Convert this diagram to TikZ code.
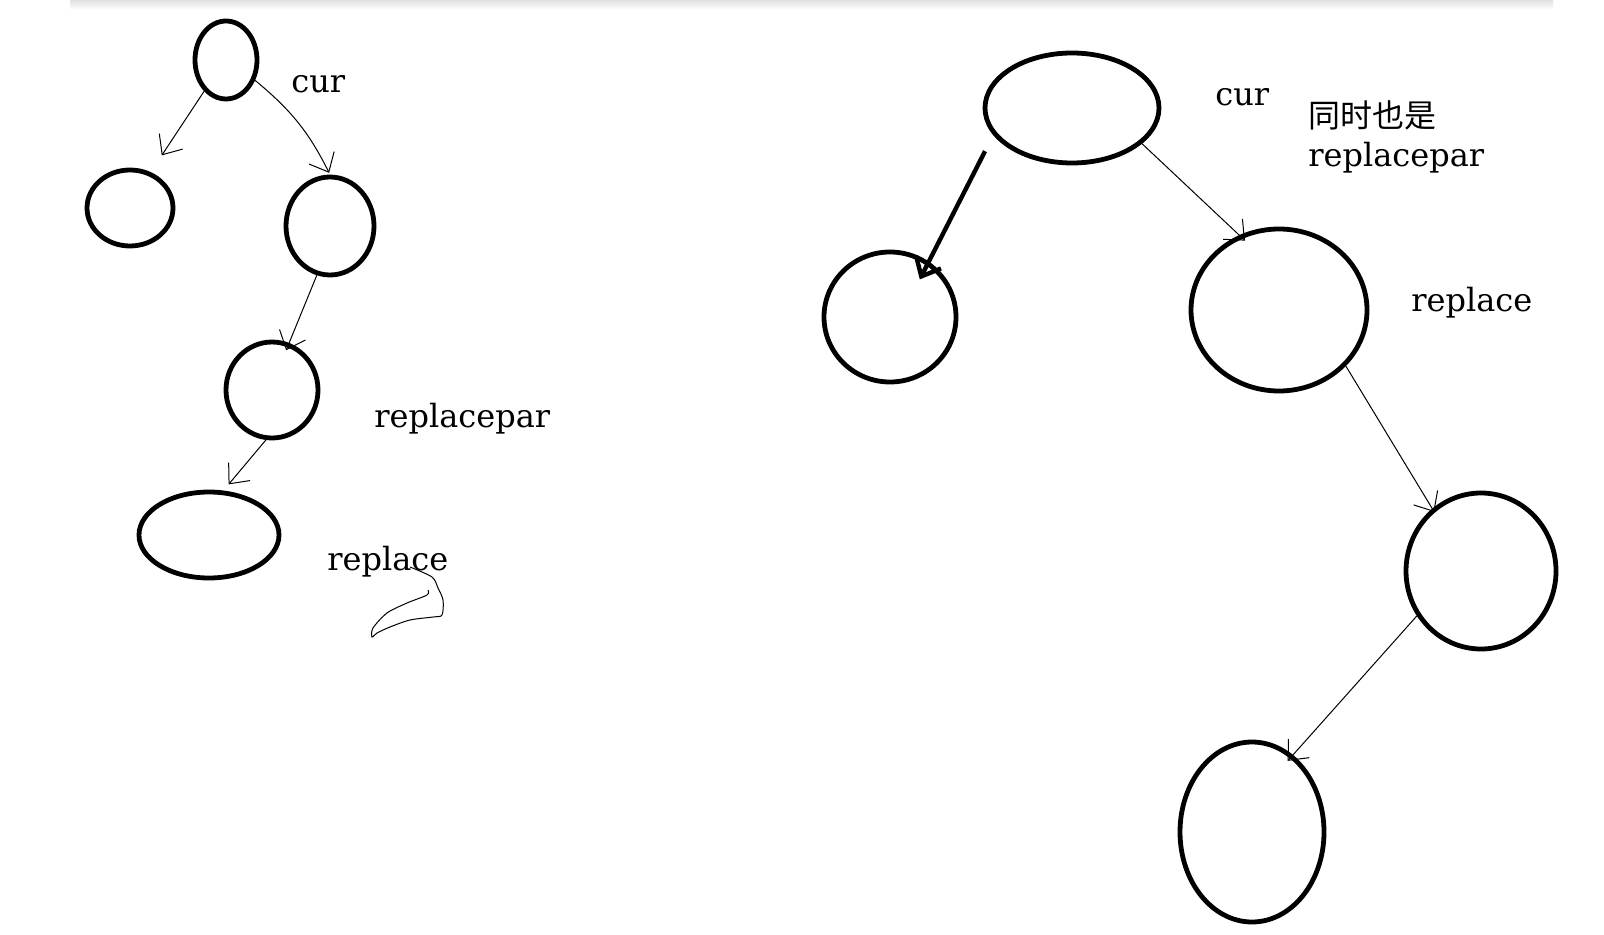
\documentclass[tikz,border=0pt]{standalone}
\usepackage{fontspec}
\setmainfont{DejaVu Serif}
\newfontfamily\cjk{Noto Sans CJK SC}
\usepackage{tikz}
\usetikzlibrary{positioning,shapes.geometric,arrows.meta}

\begin{document}
\begin{tikzpicture}[x=0.5pt, y=-0.5pt,
    blob/.style={draw, ellipse, line width=2.4pt, inner sep=0pt},
    link/.style={line width=0.5pt, -{Straight Barb[length=8pt,width=14pt]}},
    boldlink/.style={line width=2.2pt, -{Straight Barb[length=8pt,width=14pt]}},
    tag/.style={anchor=base west, font=\fontsize{16}{19.5}\selectfont, inner sep=0pt, align=left}]
    \useasboundingbox (0,0) rectangle (1604,935);
    \shade [top color=black!12, bottom color=white] (70,0) rectangle (1553,10);

    % left tree
    \node [blob, minimum width=31pt, minimum height=39pt] (a) at (226,60) {};
    \node [blob, minimum width=43pt, minimum height=38pt] (b) at (130,208) {};
    \node [blob, minimum width=44pt, minimum height=49pt] (c) at (330,226) {};
    \node [blob, minimum width=46pt, minimum height=48pt] (d) at (272,390) {};
    \node [blob, minimum width=70pt, minimum height=43pt] (e) at (209,535) {};

    \node [tag] (curA) at (291,93) {cur};
    \node [tag] (parA) at (374,427) {replacepar};
    \node [tag] (repA) at (327,570) {replace};

    \draw [link, shorten >=10pt] (a.-125) -- (b.60);
    \draw [link, shorten >=1pt] (a.-35) to [bend left=12] (c.north);
    \draw [link, shorten >=-4pt] (c.-105) -- (d.70);
    \draw [link, shorten >=4pt] (d.-97) -- (e.72);

    % stray stroke
    \draw [line width=0.5pt] plot [smooth] coordinates {(410,567) (432,577) (438,588) (443,600) (442,615) (433,617) (410,620) (390,627) (377,633) (372,637) (373,628) (387,613) (407,603) (427,595) (428,590)};

    % right tree
    \node [blob, minimum width=87pt, minimum height=55pt] (f) at (1072,108) {};
    \node [blob, minimum width=66pt, minimum height=65pt] (g) at (890,317) {};
    \node [blob, minimum width=88pt, minimum height=81pt] (h) at (1279,310) {};
    \node [blob, minimum width=75pt, minimum height=78pt] (i) at (1481,571) {};
    \node [blob, minimum width=72pt, minimum height=90pt] (j) at (1252,832) {};

    \node [tag] (curB) at (1215,106) {cur};
    \node [tag] (parB) at (1308,167) {{\cjk 同时也是}\\replacepar};
    \node [tag] (repB) at (1411,312) {replace};

    \draw [boldlink, shorten <=9pt, shorten >=-10pt] (f.-161) -- (g.55);
    \draw [link, shorten >=-4pt] (f.-27) -- (h.118);
    \draw [link, shorten >=-2pt] (h.-40) -- (i.128);
    \draw [link, shorten >=-4pt] (i.-145) -- (j.62);
\end{tikzpicture}
\end{document}
